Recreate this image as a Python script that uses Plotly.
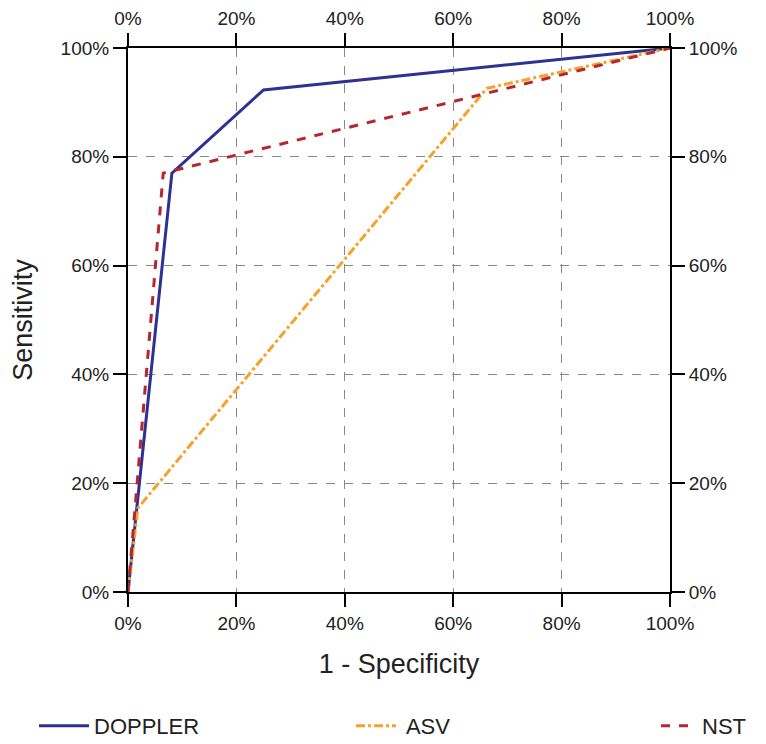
import plotly.graph_objects as go

# ROC data (1 - specificity, sensitivity)
doppler_fpr = [0.0, 0.081, 0.25, 1.0]
doppler_tpr = [0.0, 0.77, 0.923, 1.0]
asv_fpr = [0.0, 0.018, 0.662, 1.0]
asv_tpr = [0.0, 0.154, 0.926, 1.0]
nst_fpr = [0.0, 0.065, 1.0]
nst_tpr = [0.0, 0.77, 1.0]

tick_vals = [0, 0.2, 0.4, 0.6, 0.8, 1.0]
tick_text = ["0%", "20%", "40%", "60%", "80%", "100%"]

FONT = "Arial, Liberation Sans, sans-serif"

L, T, PW, PH = 120, 40, 542, 544

fig = go.Figure()
fig.add_trace(go.Scatter(x=doppler_fpr, y=doppler_tpr, mode="lines", name="DOPPLER",
                         line=dict(color="#2e3192", width=3), legend="legend"))
fig.add_trace(go.Scatter(x=asv_fpr, y=asv_tpr, mode="lines", name=" ASV",
                         line=dict(color="#f7a12a", width=3, dash="dashdot"), legend="legend2"))
fig.add_trace(go.Scatter(x=nst_fpr, y=nst_tpr, mode="lines", name="NST",
                         line=dict(color="#b5262f", width=3, dash="dash"), legend="legend3"))
# invisible trace to activate overlay axes
fig.add_trace(go.Scatter(x=[0, 1], y=[0, 1], xaxis="x2", yaxis="y2", mode="lines",
                         line=dict(width=0), showlegend=False, hoverinfo="skip"))

axis_common = dict(range=[0, 1], tickvals=tick_vals, ticktext=tick_text,
                   showline=True, linecolor="black", linewidth=2,
                   ticks="outside", ticklen=13, tickwidth=1.5, tickcolor="black",
                   tickfont=dict(family=FONT, size=19, color="#222"),
                   zeroline=False)

leg_y = (T + PH - 718) / PH
leg_font = dict(family=FONT, size=22, color="#222")

fig.update_layout(
    width=758, height=736,
    paper_bgcolor="white", plot_bgcolor="white",
    margin=dict(l=L, r=758 - L - PW, t=T, b=736 - T - PH, autoexpand=False),
    xaxis=dict(**axis_common, showgrid=True, gridcolor="#888", griddash="dash", gridwidth=1,
               title=dict(text="1 - Specificity", font=dict(family=FONT, size=27, color="#222"),
                          standoff=21)),
    yaxis=dict(**axis_common, showgrid=True, gridcolor="#888", griddash="dash", gridwidth=1,
               title=dict(text="Sensitivity", font=dict(family=FONT, size=27, color="#222"),
                          standoff=26)),
    xaxis2=dict(**axis_common, overlaying="x", side="top", showgrid=False),
    yaxis2=dict(**axis_common, overlaying="y", side="right", showgrid=False),
    legend=dict(x=(26 - L) / PW, y=leg_y, xanchor="left", yanchor="middle", itemwidth=50,
                font=leg_font, bgcolor="rgba(0,0,0,0)"),
    legend2=dict(x=(343 - L) / PW, y=leg_y, xanchor="left", yanchor="middle", itemwidth=40,
                 font=leg_font, bgcolor="rgba(0,0,0,0)"),
    legend3=dict(x=(648 - L) / PW, y=leg_y, xanchor="left", yanchor="middle", itemwidth=36,
                 font=leg_font, bgcolor="rgba(0,0,0,0)"),
)

fig.write_html("out.html")
